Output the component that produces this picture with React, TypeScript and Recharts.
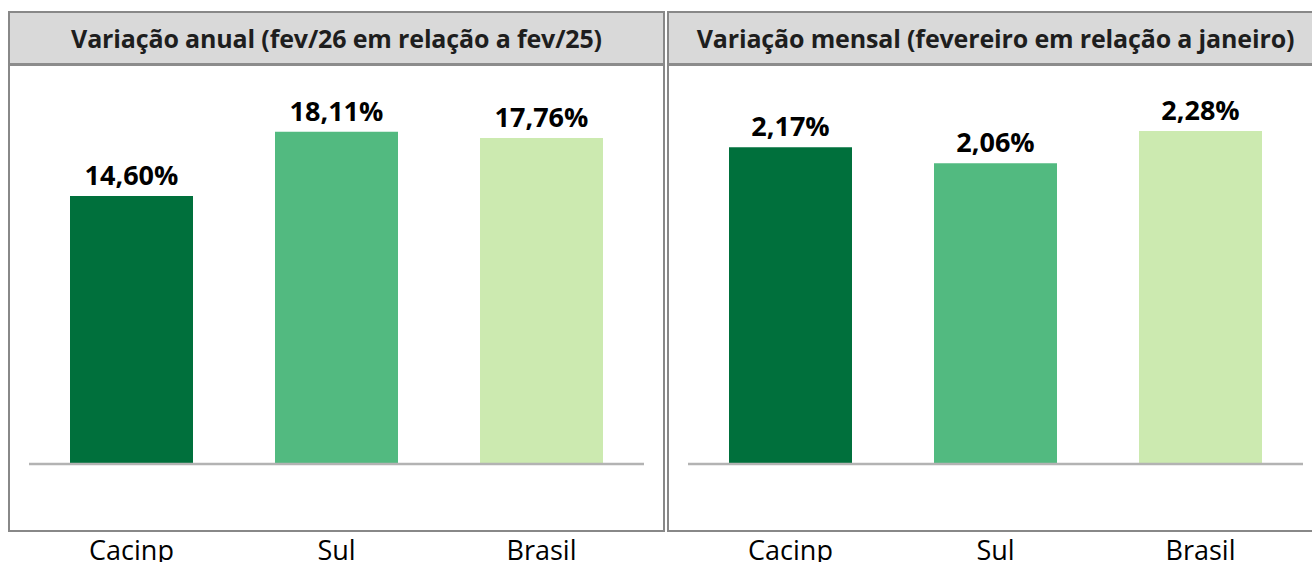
import React from 'react';
import { BarChart, Bar, XAxis, YAxis, Cell, LabelList } from 'recharts';

const categories = ['Cacinp', 'Sul', 'Brasil'];
const annualValues = [14.6, 18.11, 17.76];
const monthlyValues = [2.17, 2.06, 2.28];
const barColors = ['#00703C', '#52BA80', '#CCEAB0'];
const titles = [
    'Variação anual (fev/26 em relação a fev/25)',
    'Variação mensal (fevereiro em relação a janeiro)',
];

const FONT = '"Open Sans", "DejaVu Sans", sans-serif';

const fmt = (v: any) => `${Number(v).toFixed(2).replace('.', ',')}%`;

interface PanelProps {
    left: number;
    title: string;
    values: number[];
    max: number;
    plotTop: number;
}

function Panel({ left, title, values, max, plotTop }: PanelProps) {
    const data = categories.map((name, i) => ({ name, value: values[i] }));
    return (
        <>
            <div
                style={{
                    position: 'absolute',
                    left: left + 8,
                    top: 11,
                    width: 653,
                    height: 517,
                    border: '2px solid #888888',
                    background: '#FFFFFF',
                }}
            >
                <div
                    style={{
                        height: 50,
                        background: '#D9D9D9',
                        borderBottom: '3px solid #8C8C8C',
                        display: 'flex',
                        alignItems: 'center',
                        justifyContent: 'center',
                        fontFamily: FONT,
                        fontWeight: 700,
                        fontSize: 25,
                        letterSpacing: -0.15,
                        color: '#1E1E1E',
                        whiteSpace: 'nowrap',
                    }}
                >
                    {title}
                </div>
            </div>
            <div style={{ position: 'absolute', left, top: 0 }}>
                <BarChart
                    width={665}
                    height={562}
                    data={data}
                    margin={{ top: plotTop, left: 29, right: 21, bottom: 0 }}
                    barCategoryGap="20%"
                >
                    <XAxis
                        dataKey="name"
                        height={98}
                        tickSize={0}
                        tickMargin={77}
                        axisLine={{ stroke: '#B3B3B3', strokeWidth: 2.5 }}
                        tick={{ fill: '#000000', fontSize: 27, fontFamily: FONT }}
                    />
                    <YAxis hide domain={[0, max]} />
                    <Bar dataKey="value" isAnimationActive={false}>
                        {data.map((entry, index) => (
                            <Cell key={`cell-${index}`} fill={barColors[index % barColors.length]} />
                        ))}
                        <LabelList
                            dataKey="value"
                            position="top"
                            offset={11}
                            formatter={fmt}
                            style={{ fill: '#000000', fontSize: 27, fontWeight: 700, fontFamily: FONT }}
                        />
                    </Bar>
                </BarChart>
            </div>
        </>
    );
}

export default function App() {
    return (
        <div style={{ position: 'absolute', left: 0, top: 0, width: 1312, height: 562, overflow: 'hidden', background: '#FFFFFF' }}>
            <Panel left={0} title={titles[0]} values={annualValues} max={20} plotTop={97} />
            <Panel left={659} title={titles[1]} values={monthlyValues} max={2.5} plotTop={99} />
        </div>
    );
}
